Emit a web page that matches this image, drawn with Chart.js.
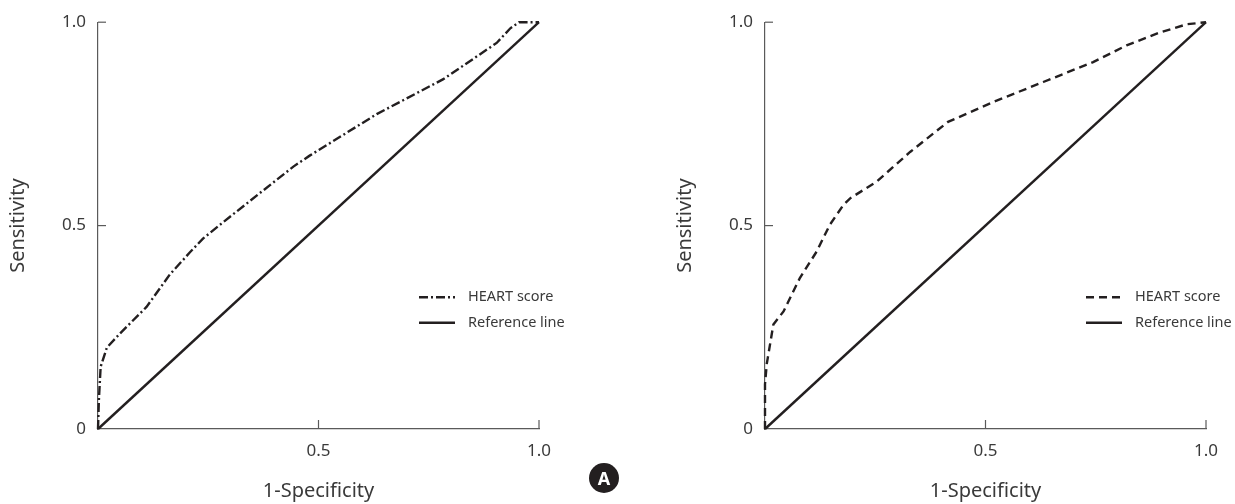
<!DOCTYPE html>
<html>
<head>
<meta charset="utf-8">
<script src="https://cdn.jsdelivr.net/npm/chart.js@4.4.1/dist/chart.umd.min.js"></script>
<style>
  html, body { margin: 0; padding: 0; background: #fff; }
  #wrap { position: relative; width: 1235px; height: 504px; overflow: hidden; }
  #leftBox { position: absolute; left: 0; top: 0; width: 620px; height: 504px; }
  #rightBox { position: absolute; left: 667px; top: 0; width: 568px; height: 504px; }
  #badge {
    position: absolute; left: 589px; top: 463px; width: 30px; height: 30px;
    border-radius: 50%; background: #231f20; color: #fff;
    font: bold 18px "Noto Sans", sans-serif; line-height: 30px; text-align: center;
  }
</style>
</head>
<body>
<div id="wrap">
  <div id="leftBox"><canvas id="leftChart"></canvas></div>
  <div id="rightBox"><canvas id="rightChart"></canvas></div>
  <div id="badge">A</div>
</div>
<script>
// ROC curve points (1-specificity, sensitivity)
const leftFpr = [0, 0.002, 0.006, 0.02, 0.05, 0.11, 0.163, 0.209, 0.238, 0.28, 0.345, 0.443, 0.48, 0.632, 0.783, 0.904, 0.935, 0.955, 1.0];
const leftTpr = [0, 0.071, 0.153, 0.20, 0.235, 0.30, 0.38, 0.435, 0.468, 0.505, 0.561, 0.645, 0.672, 0.774, 0.86, 0.949, 0.985, 1.0, 1.0];

const rightFpr = [0, 0, 0.004, 0.019, 0.042, 0.079, 0.117, 0.147, 0.178, 0.193, 0.253, 0.329, 0.415, 0.518, 0.631, 0.744, 0.82, 0.896, 0.957, 1.0];
const rightTpr = [0, 0.11, 0.16, 0.257, 0.289, 0.371, 0.436, 0.502, 0.551, 0.567, 0.608, 0.681, 0.755, 0.804, 0.853, 0.902, 0.943, 0.975, 0.995, 1.0];

const refFpr = [0, 1];
const refTpr = [0, 1];

const seriesNames = ["HEART score", "Reference line"];
const tickValues = [0, 0.5, 1];
const xTitle = "1-Specificity";
const yTitle = "Sensitivity";

const ink = "#231f20";
const axisColor = "#5a5a5a";
const textColor = "#3a3a3a";
const fontFamily = "'Noto Sans', sans-serif";

function toPoints(xs, ys) {
  return xs.map((x, i) => ({ x: x, y: ys[i] }));
}

// small inward tick marks + legend drawn inside the plot
const decorPlugin = {
  id: "decor",
  afterDraw(chart) {
    const ctx = chart.ctx;
    const area = chart.chartArea;
    const xs = chart.scales.x;
    const ys = chart.scales.y;
    ctx.save();
    ctx.strokeStyle = axisColor;
    ctx.lineWidth = 1.2;
    [0.5, 1].forEach((v) => {
      const py = ys.getPixelForValue(v);
      ctx.beginPath();
      ctx.moveTo(area.left, py);
      ctx.lineTo(area.left + 8, py);
      ctx.stroke();
      const px = xs.getPixelForValue(v);
      ctx.beginPath();
      ctx.moveTo(px, area.bottom);
      ctx.lineTo(px, area.bottom - 9);
      ctx.stroke();
    });

    // legend
    chart.data.datasets.forEach((ds, i) => {
      const y = area.top + 275 + i * 25.5;
      const x0 = area.left + 321;
      ctx.strokeStyle = ds.borderColor;
      ctx.lineWidth = ds.borderWidth;
      ctx.setLineDash(ds.borderDash || []);
      ctx.beginPath();
      ctx.moveTo(x0, y);
      ctx.lineTo(x0 + 36, y);
      ctx.stroke();
      ctx.setLineDash([]);
      ctx.fillStyle = textColor;
      ctx.font = "14.5px " + fontFamily;
      ctx.textBaseline = "middle";
      ctx.textAlign = "left";
      ctx.fillText(ds.label, x0 + 49, y);
    });
    ctx.restore();
  },
};

function makeChart(canvasId, xs, ys, dash, rightPad) {
  const ctx = document.getElementById(canvasId).getContext("2d");
  return new Chart(ctx, {
    type: "line",
    data: {
      datasets: [
        {
          label: seriesNames[0],
          data: toPoints(xs, ys),
          borderColor: ink,
          borderWidth: 2.4,
          borderDash: dash,
          pointRadius: 0,
          tension: 0,
          fill: false,
          clip: false,
        },
        {
          label: seriesNames[1],
          data: toPoints(refFpr, refTpr),
          borderColor: ink,
          borderWidth: 2.4,
          pointRadius: 0,
          tension: 0,
          fill: false,
          clip: false,
        },
      ],
    },
    options: {
      responsive: true,
      maintainAspectRatio: false,
      animation: false,
      layout: { padding: { top: 22, right: rightPad, left: 0, bottom: 0 } },
      plugins: { legend: { display: false }, tooltip: { enabled: false } },
      scales: {
        x: {
          type: "linear",
          min: 0,
          max: 1,
          afterBuildTicks: (scale) => {
            scale.ticks = tickValues.map((v) => ({ value: v }));
          },
          afterFit: (scale) => {
            scale.height = 75;
          },
          grid: { display: true, drawOnChartArea: false, drawTicks: false },
          border: { display: true, color: axisColor, width: 1.2 },
          ticks: {
            padding: 12,
            color: textColor,
            font: { family: fontFamily, size: 17 },
            callback: (v) => (v === 0 ? "" : v.toFixed(1)),
          },
          title: {
            display: true,
            text: xTitle,
            color: textColor,
            font: { family: fontFamily, size: 20 },
            padding: { top: 0, bottom: 1 },
          },
        },
        y: {
          type: "linear",
          min: 0,
          max: 1,
          afterBuildTicks: (scale) => {
            scale.ticks = tickValues.map((v) => ({ value: v }));
          },
          afterFit: (scale) => {
            scale.width = 98;
          },
          grid: { display: true, drawOnChartArea: false, drawTicks: false },
          border: { display: true, color: axisColor, width: 1.2 },
          ticks: {
            padding: 12,
            color: textColor,
            font: { family: fontFamily, size: 17 },
            callback: (v) => (v === 0 ? "0" : v.toFixed(1)),
          },
          title: {
            display: true,
            text: yTitle,
            color: textColor,
            font: { family: fontFamily, size: 20 },
            padding: { top: 6, bottom: 0 },
          },
        },
      },
    },
    plugins: [decorPlugin],
  });
}

makeChart("leftChart", leftFpr, leftTpr, [9, 3, 2, 3], 81);
makeChart("rightChart", rightFpr, rightTpr, [8, 5], 29);
</script>
</body>
</html>
